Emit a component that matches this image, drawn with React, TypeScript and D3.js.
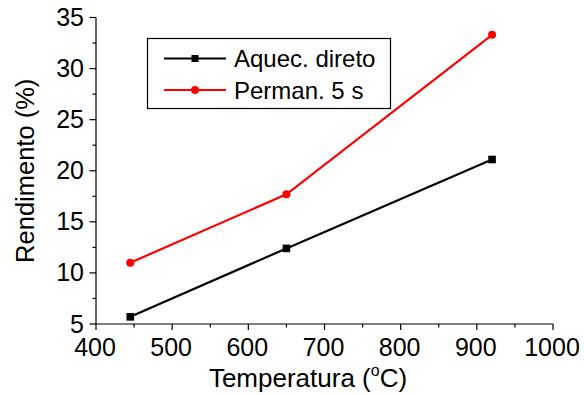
import React from 'react';
import * as d3 from 'd3';

// Data
const temperatures = [445, 650, 920];
const directHeating = [5.7, 12.4, 21.1];
const hold5s = [11.0, 17.7, 33.3];
const xTicks = [400, 500, 600, 700, 800, 900, 1000];
const yTicks = [5, 10, 15, 20, 25, 30, 35];

const seriesNames = ['Aquec. direto', 'Perman. 5 s'];

const W = 584;
const H = 395;
const FONT = '"Liberation Sans", Arial, sans-serif';

export default function App() {
    const x = d3.scaleLinear().domain([400, 1000]).range([96, 553]);
    const y = d3.scaleLinear().domain([5, 35]).range([324, 17.5]);

    const xMinor = d3.range(450, 1000, 100);
    const yMinor = d3.range(7.5, 35, 5);

    const line = d3.line<[number, number]>()
        .x(d => x(d[0]))
        .y(d => y(d[1]));

    const black = temperatures.map((t, i) => [t, directHeating[i]] as [number, number]);
    const red = temperatures.map((t, i) => [t, hold5s[i]] as [number, number]);

    const x0 = x.range()[0];
    const y0 = y.range()[0];

    return (
        <svg width={W} height={H} style={{ position: 'absolute', left: 0, top: 0, background: '#fff' }}
            fontFamily={FONT}>
            {/* axes */}
            <line x1={x0} x2={x.range()[1]} y1={y0} y2={y0} stroke="#000" strokeWidth={1.2} />
            <line x1={x0} x2={x0} y1={y0} y2={y.range()[1]} stroke="#000" strokeWidth={1.2} />

            {xTicks.map(t => (
                <g key={'xt' + t}>
                    <line x1={x(t)} x2={x(t)} y1={y0} y2={y0 + 6} stroke="#000" strokeWidth={1.2} />
                    <text x={x(t) - 1} y={356} textAnchor="middle" fontSize={25}>{t}</text>
                </g>
            ))}
            {xMinor.map(t => (
                <line key={'xm' + t} x1={x(t)} x2={x(t)} y1={y0} y2={y0 + 3.5} stroke="#000" strokeWidth={1.2} />
            ))}

            {yTicks.map(t => (
                <g key={'yt' + t}>
                    <line x1={x0 - 6.5} x2={x0} y1={y(t)} y2={y(t)} stroke="#000" strokeWidth={1.2} />
                    <text x={84} y={y(t) + 8.5} textAnchor="end" fontSize={25}>{t}</text>
                </g>
            ))}
            {yMinor.map(t => (
                <line key={'ym' + t} x1={x0 - 3.5} x2={x0} y1={y(t)} y2={y(t)} stroke="#000" strokeWidth={1.2} />
            ))}

            {/* axis titles */}
            <text x={308} y={387} textAnchor="middle" fontSize={26}>
                Temperatura (<tspan fontSize={16} dy={-11}>o</tspan><tspan dy={11}>C)</tspan>
            </text>
            <text transform={`translate(34,${(y.range()[0] + y.range()[1]) / 2}) rotate(-90)`}
                textAnchor="middle" fontSize={25.5}>Rendimento (%)</text>

            {/* series */}
            <path d={line(black) || ''} fill="none" stroke="#000" strokeWidth={2.2} />
            {black.map((d, i) => (
                <rect key={'b' + i} x={x(d[0]) - 3.8} y={y(d[1]) - 3.8} width={7.6} height={7.6} fill="#000" />
            ))}
            <path d={line(red) || ''} fill="none" stroke="#ff0000" strokeWidth={2.2} />
            {red.map((d, i) => (
                <circle key={'r' + i} cx={x(d[0])} cy={y(d[1])} r={4} fill="#ff0000" />
            ))}

            {/* legend */}
            <rect x={147.5} y={38.5} width={243} height={70} fill="#fff" stroke="#000" strokeWidth={1.2} />
            <line x1={164} x2={226} y1={58.5} y2={58.5} stroke="#000" strokeWidth={2.2} />
            <rect x={195 - 3.5} y={58.5 - 3.5} width={7} height={7} fill="#000" />
            <text x={234} y={67} fontSize={24}>{seriesNames[0]}</text>
            <line x1={164} x2={226} y1={90} y2={90} stroke="#ff0000" strokeWidth={2.2} />
            <circle cx={195} cy={90} r={4} fill="#ff0000" />
            <text x={234} y={98.5} fontSize={24}>{seriesNames[1]}</text>
        </svg>
    );
}
